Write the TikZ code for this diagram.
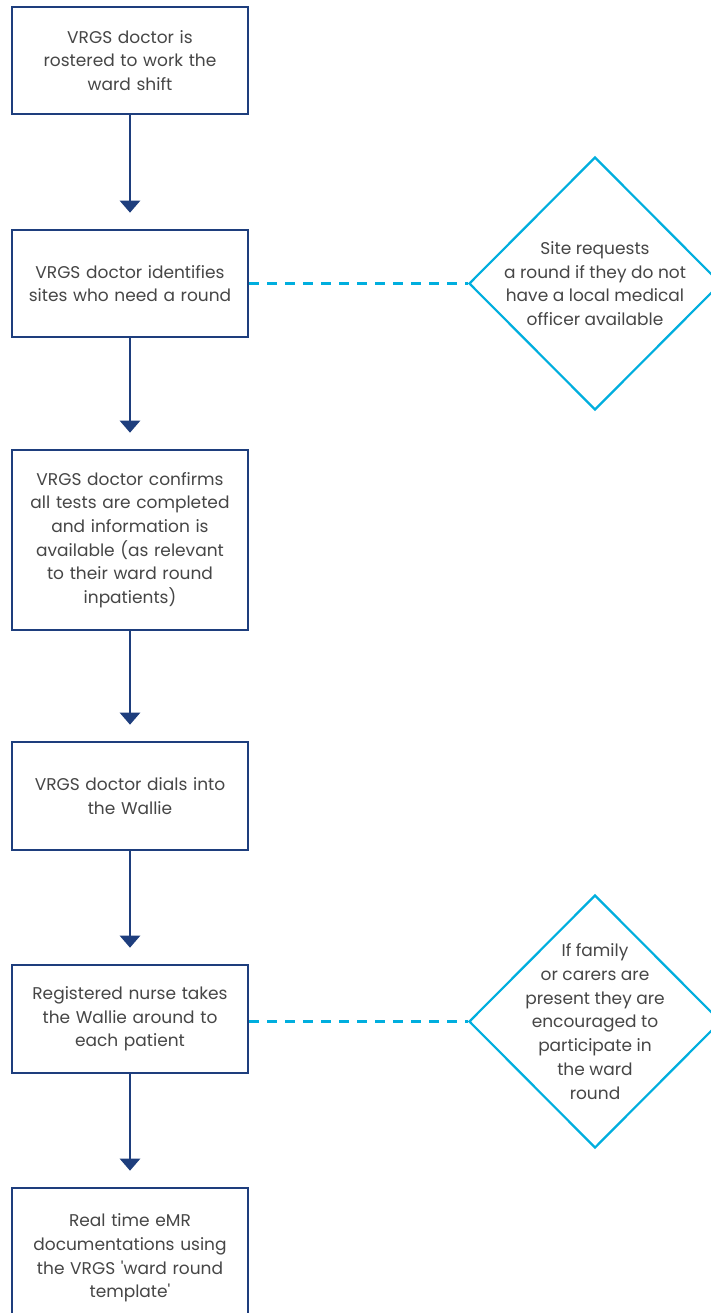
\documentclass[tikz,border=0pt]{standalone}
\usepackage{fontspec}
\setmainfont{Poppins}
\usetikzlibrary{shapes.geometric,arrows.meta}
\definecolor{navy}{RGB}{30,62,125}
\definecolor{cyanline}{RGB}{0,174,222}
\definecolor{txt}{RGB}{70,70,70}
\tikzset{
  x=1pt,y=1pt,
  txtfont/.style={text=txt,font=\fontsize{17}{23.7}\selectfont},
  stepbox/.style={draw=navy,line width=2.6pt,fill=white,minimum width=236pt,text width=226pt,align=center,inner sep=0pt,txtfont},
  decision/.style={diamond,draw=cyanline,line width=2.2pt,fill=white,minimum width=252pt,minimum height=253pt,inner sep=0pt},
  dlabel/.style={align=center,txtfont,inner sep=0pt},
  flow/.style={draw=navy,line width=2.6pt,-{Triangle[width=20pt,length=12pt]}},
  link/.style={draw=cyanline,line width=2.5pt,dash pattern=on 10pt off 8pt}
}
\begin{document}
\begin{tikzpicture}
\useasboundingbox (0,0) rectangle (711,-1313);
\clip (0,0) rectangle (711,-1313);
\node[stepbox,minimum height=107pt] (b1) at (130,-60.5) {VRGS doctor is\\rostered to work the\\ward shift};
\node[stepbox,minimum height=107pt] (b2) at (130,-283.5) {VRGS doctor identifies\\sites who need a round};
\node[stepbox,minimum height=180pt] (b3) at (130,-540) {VRGS doctor confirms\\all tests are completed\\and information is\\available (as relevant\\to their ward round\\inpatients)};
\node[stepbox,minimum height=108pt] (b4) at (130,-796) {VRGS doctor dials into\\the Wallie};
\node[stepbox,minimum height=108pt] (b5) at (130,-1019) {Registered nurse takes\\the Wallie around to\\each patient};
\node[stepbox,minimum height=140pt] (b6) at (130,-1258) {Real time eMR\\documentations using\\the VRGS \textquotesingle ward round\\template\textquotesingle};
\node[decision,label={[dlabel]center:{Site requests\\a round if they do not\\have a local medical\\officer available}}] (d1) at (595,-283.5) {};
\node[decision,label={[dlabel]center:{If family\\or carers are\\present they are\\encouraged to\\participate in\\the ward\\round}}] (d2) at (595,-1021.5) {};
\draw[flow] (b1.south) -- ([yshift=16pt]b2.north);
\draw[flow] (b2.south) -- ([yshift=16pt]b3.north);
\draw[flow] (b3.south) -- ([yshift=16pt]b4.north);
\draw[flow] (b4.south) -- ([yshift=16pt]b5.north);
\draw[flow] (b5.south) -- ([yshift=16pt]b6.north);
\draw[link] (b2.east) -- (d1.west);
\draw[link] (b5.east |- d2.west) -- (d2.west);
\end{tikzpicture}
\end{document}
